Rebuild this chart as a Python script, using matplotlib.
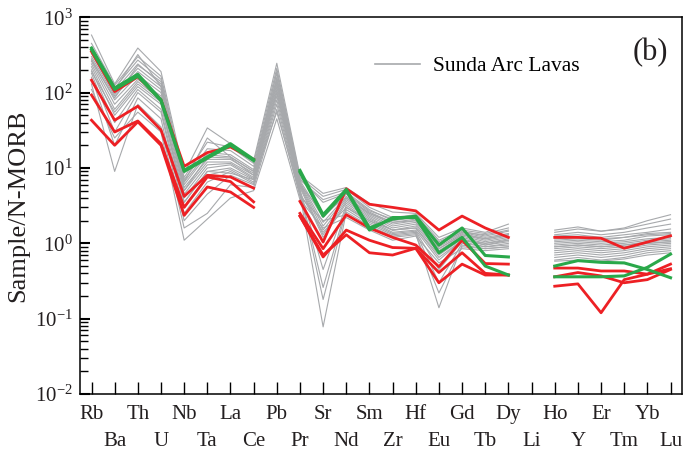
import numpy as np
import matplotlib
matplotlib.use("Agg")
import matplotlib.pyplot as plt
from matplotlib.lines import Line2D
from matplotlib.ticker import LogLocator, FixedLocator, FixedFormatter

plt.rcParams['font.family'] = ['Liberation Serif', 'DejaVu Serif']
plt.rcParams['mathtext.fontset'] = 'custom'
plt.rcParams['mathtext.rm'] = 'Liberation Serif'
plt.rcParams['mathtext.it'] = 'Liberation Serif:italic'

nan = np.nan

# elements in plotting order (N-MORB normalised spider diagram)
elements = ['Rb', 'Ba', 'Th', 'U', 'Nb', 'Ta', 'La', 'Ce', 'Pb', 'Pr', 'Sr', 'Nd', 'Sm',
            'Zr', 'Hf', 'Eu', 'Gd', 'Tb', 'Dy', 'Li', 'Ho', 'Y', 'Er', 'Tm', 'Yb', 'Lu']

# Sunda Arc lavas (grey field)
sunda = [
    [580, 130, 390, 190, 8.5, 34.0, 21.0, 12.5, 245, 8.0, 4.6, 5.5, 3.4, 2.6, 2.5, 1.20, 1.60, 1.40, 1.80, nan, 1.50, 1.65, 1.45, 1.60, 2.00, 2.40],
    [450, 125, 300, 165, 7.5, 22.0, 19.0, 11.5, 210, 7.5, 4.2, 5.2, 3.0, 2.2, 2.4, 1.10, 1.50, 1.35, 1.60, nan, 1.40, 1.55, 1.45, 1.55, 1.80, 2.10],
    [400, 115, 270, 150, 7.0, 18.0, 17.0, 10.5, 180, 7.0, 3.8, 4.8, 2.8, 2.0, 2.2, 1.05, 1.45, 1.25, 1.45, nan, 1.25, 1.30, 1.20, 1.30, 1.40, 1.55],
    [360, 105, 240, 130, 6.5, 16.0, 15.0, 9.5, 160, 6.8, 2.2, 4.5, 2.6, 1.9, 2.1, 0.95, 1.40, 1.20, 1.35, nan, 1.15, 1.20, 1.15, 1.20, 1.35, 1.40],
    [330, 95, 210, 120, 6.0, 15.0, 14.0, 9.0, 150, 6.5, 1.9, 4.2, 2.5, 1.8, 2.0, 0.90, 1.35, 1.15, 1.30, nan, 1.05, 1.10, 1.05, 1.10, 1.25, 1.30],
    [300, 90, 190, 110, 5.5, 13.0, 13.0, 8.5, 140, 6.2, 1.7, 4.0, 2.4, 1.7, 1.9, 0.85, 1.30, 1.10, 1.25, nan, 1.00, 1.05, 1.00, 1.05, 1.15, 1.20],
    [280, 80, 170, 100, 5.0, 12.0, 12.0, 8.0, 130, 6.0, 1.5, 3.8, 2.3, 1.6, 1.8, 0.80, 1.25, 1.05, 1.20, nan, 0.95, 1.00, 0.95, 1.00, 1.10, 1.15],
    [260, 70, 150, 90, 4.5, 11.0, 11.5, 7.5, 120, 5.8, 1.3, 3.6, 2.2, 1.5, 1.7, 0.75, 1.20, 1.00, 1.15, nan, 0.90, 0.95, 0.90, 0.95, 1.05, 1.10],
    [240, 60, 140, 80, 4.0, 10.0, 11.0, 7.2, 110, 5.5, 1.2, 3.4, 2.1, 1.5, 1.6, 0.70, 1.15, 0.95, 1.10, nan, 0.85, 0.90, 0.85, 0.90, 1.00, 1.05],
    [220, 50, 120, 70, 3.5, 9.0, 10.0, 7.0, 100, 5.2, 0.45, 3.2, 2.0, 1.4, 1.5, 0.60, 1.10, 0.95, 1.05, nan, 0.80, 0.85, 0.80, 0.85, 0.95, 1.00],
    [200, 40, 110, 60, 3.0, 8.0, 9.5, 6.5, 90, 5.0, 0.26, 3.0, 1.9, 1.35, 1.45, 0.45, 1.05, 0.90, 1.00, nan, 0.75, 0.80, 0.75, 0.80, 0.90, 0.95],
    [180, 30, 100, 55, 2.5, 6.5, 9.0, 6.2, 80, 4.8, 0.18, 2.8, 1.8, 1.3, 1.4, 0.30, 1.00, 0.90, 0.95, nan, 0.70, 0.75, 0.70, 0.75, 0.85, 0.90],
    [160, 20, 85, 45, 2.0, 4.5, 8.0, 6.0, 70, 4.5, 0.078, 2.6, 1.7, 1.25, 1.35, 0.14, 0.95, 0.85, 0.90, nan, 0.65, 0.70, 0.65, 0.70, 0.80, 0.85],
    [130, 9, 70, 35, 1.6, 2.5, 6.0, 5.5, 60, 4.2, 2.0, 2.4, 1.6, 1.2, 1.3, 0.22, 0.90, 0.85, 0.90, nan, 0.60, 0.65, 0.60, 0.65, 0.75, 0.80],
    [110, 25, 55, 30, 1.1, 2.1, 4.0, 5.0, 45, 3.8, 1.6, 2.2, 1.5, 1.1, 1.25, 0.55, 0.85, 0.80, 0.85, nan, 0.58, 0.60, 0.58, 0.62, 0.70, 0.75],
    [350, 110, 320, 120, 6.5, 25.0, 14.0, 9.0, 190, 7.2, 3.5, 4.6, 2.7, 2.1, 2.2, 1.00, 1.40, 1.30, 1.50, nan, 1.30, 1.40, 1.30, 1.40, 1.60, 1.80],
    [270, 85, 230, 140, 5.0, 14.0, 13.5, 8.0, 100, 6.0, 2.5, 4.0, 2.5, 1.9, 2.0, 0.85, 1.30, 1.15, 1.30, nan, 1.10, 1.15, 1.10, 1.20, 1.30, 1.35],
    [190, 55, 130, 75, 3.5, 9.0, 8.5, 7.0, 55, 4.6, 1.4, 3.0, 2.0, 1.5, 1.6, 0.65, 1.10, 1.00, 1.10, nan, 0.90, 0.95, 0.90, 0.95, 1.00, 1.05],
]

# samples of this study (red)
red_samples = [
    [350, 103, 162, 80, 10.5, 16.0, 19.0, 13.0, nan, 3.6, 1.04, 5.3, 3.3, 3.0, 2.7, 1.50, 2.30, 1.60, 1.20, nan, 1.20, 1.20, 1.17, 0.86, 1.04, 1.26],
    [146, 43, 66, 32, 4.2, 8.0, 7.6, 5.4, nan, 2.5, 0.85, 2.4, 1.6, 1.2, 0.95, 0.49, 1.10, 0.54, 0.53, nan, 0.47, 0.47, 0.43, 0.43, 0.39, 0.53],
    [93, 30, 42, 21, 3.0, 7.6, 6.6, 3.55, nan, 2.3, 0.66, 1.5, 1.1, 0.88, 0.86, 0.41, 0.75, 0.40, 0.38, nan, 0.36, 0.41, 0.37, 0.30, 0.33, 0.45],
    [43, 20, 41, 20, 2.35, 5.6, 4.8, 3.0, nan, 2.3, 0.70, 1.3, 0.75, 0.70, 0.86, 0.30, 0.53, 0.38, 0.38, nan, 0.27, 0.29, 0.12, 0.33, 0.39, 0.46],
]

# samples of this study (green)
green_samples = [
    [390, 115, 175, 80, 9.3, 14.0, 21.0, 13.0, nan, 9.3, 2.4, 5.2, 1.6, 2.1, 2.3, 0.95, 1.60, 0.69, 0.66, nan, 0.50, 0.59, 0.56, 0.55, 0.45, 0.35],
    [370, 110, 165, 78, 9.0, 13.5, 20.0, 12.5, nan, 8.8, 2.3, 5.0, 1.5, 2.2, 2.2, 0.75, 1.20, 0.50, 0.38, nan, 0.36, 0.36, 0.36, 0.37, 0.48, 0.72],
]

x = np.arange(len(elements))

fig, ax = plt.subplots(figsize=(6.89, 4.53), dpi=100)
fig.subplots_adjust(left=0.116, right=0.990, bottom=0.130, top=0.962)

for row in sunda:
    ax.plot(x, row, color='#a7a9ac', lw=0.8, zorder=2)
for row in red_samples:
    ax.plot(x, row, color='#ed2024', lw=2.0, zorder=3)
for row in green_samples:
    ax.plot(x, row, color='#2aa84a', lw=2.2, zorder=4)

ax.set_yscale('log')
ax.set_ylim(1e-2, 1e3)
ax.set_xlim(-0.5, len(elements) - 0.5)
ax.yaxis.set_minor_locator(LogLocator(base=10, subs=np.arange(2, 10)))

# element names in two rows: even ones on major ticks, odd ones on minor ticks
ax.xaxis.set_major_locator(FixedLocator(x[::2]))
ax.xaxis.set_major_formatter(FixedFormatter(elements[::2]))
ax.xaxis.set_minor_locator(FixedLocator(x[1::2]))
ax.xaxis.set_minor_formatter(FixedFormatter(elements[1::2]))

ax.tick_params(axis='x', which='both', direction='in', length=8.5, width=1.0,
               top=False, labelsize=15, labelcolor='#231f20')
ax.tick_params(axis='x', which='major', pad=8)
ax.tick_params(axis='x', which='minor', pad=27.5)
ax.tick_params(axis='y', which='major', direction='in', length=7, width=1.5,
               right=False, labelsize=15, pad=5, labelcolor='#231f20')
ax.tick_params(axis='y', which='minor', direction='in', length=5.5, width=1.0, right=False)

for s in ax.spines.values():
    s.set_linewidth(1.1)

ax.set_ylabel('Sample/N-MORB', fontsize=19, color='#231f20', labelpad=4)

handle = Line2D([], [], color='#a7a9ac', lw=1.2)
ax.legend([handle], ['Sunda Arc Lavas'], loc='center left', bbox_to_anchor=(0.49, 0.87),
          frameon=False, fontsize=15.5, handlelength=2.1, handletextpad=0.6,
          borderpad=0, borderaxespad=0)

ax.text(0.977, 0.905, '(b)', transform=ax.transAxes, fontsize=22, ha='right', va='center',
        color='#231f20')

fig.savefig('out.png', dpi=100)
